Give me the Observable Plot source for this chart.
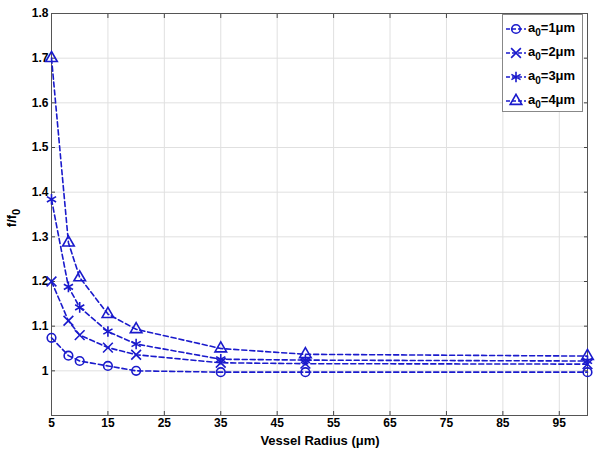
<!DOCTYPE html>
<html><head><meta charset="utf-8">
<script src="https://cdn.jsdelivr.net/npm/d3@7"></script>
<script src="https://cdn.jsdelivr.net/npm/@observablehq/plot@0.6"></script>
<style>
body{margin:0;background:#fff;font-family:"Liberation Sans",Arial,sans-serif;}
#wrap{position:relative;width:600px;height:453px;}
#legend{position:absolute;left:502px;top:14px;width:81px;height:98px;border:1px solid #888;background:#fff;box-sizing:border-box;font-weight:bold;font-size:13px;color:#000;}
#legend .row{position:absolute;left:2px;height:18px;display:flex;align-items:center;}
#legend sub{font-size:10px;}
</style></head>
<body><div id="wrap"><div id="chart"></div><div id="legend"></div></div>
<script>
const radius = [5, 8, 10, 15, 20, 35, 50, 100];
const a1 = [1.074, 1.034, 1.022, 1.011, 1.000, 0.997, 0.997, 0.997];
const a2 = [1.200, 1.112, 1.080, 1.052, 1.036, 1.018, 1.016, 1.015];
const a3 = [1.384, 1.188, 1.142, 1.088, 1.060, 1.026, 1.024, 1.022];
const a4 = [1.700, 1.287, 1.209, 1.127, 1.093, 1.050, 1.037, 1.033];
const seriesNames = ["1", "2", "3", "4"];
const symbols = ["circle", "times", "asterisk", "triangle"];
const symR = [4.3, 4.5, 5, 4.3];
const xTicks = [5, 15, 25, 35, 45, 55, 65, 75, 85, 95];
const yTicks = [1, 1.1, 1.2, 1.3, 1.4, 1.5, 1.6, 1.7, 1.8];
const yGrid = [0.9, 1, 1.1, 1.2, 1.3, 1.4, 1.5, 1.6, 1.7, 1.8];
const blue = "#1a1acc";

const all = [a1, a2, a3, a4];
const data = [];
all.forEach((arr, i) => arr.forEach((v, j) => data.push({s: seriesNames[i], x: radius[j], y: v})));

const marks = [
  Plot.gridX(xTicks, {stroke: "#e0e0e0", strokeOpacity: 1}),
  Plot.gridY(yGrid, {stroke: "#e0e0e0", strokeOpacity: 1}),
  Plot.axisX(xTicks, {tickSize: -4, tickFormat: d => d, fontWeight: "bold", fontSize: 12, stroke: "#444", tickPadding: 7, label: null}),
  Plot.axisX(xTicks, {anchor: "top", tickSize: -4, tickFormat: () => "", stroke: "#444", label: null}),
  Plot.axisY(yTicks, {tickSize: -4, tickFormat: d => d, fontWeight: "bold", fontSize: 12, stroke: "#444", tickPadding: 7, label: null}),
  Plot.axisY(yTicks, {anchor: "right", tickSize: -4, tickFormat: () => "", stroke: "#444", label: null}),
  Plot.frame({stroke: "#555"})
];
seriesNames.forEach((s, i) => {
  const d = data.filter(r => r.s === s);
  marks.push(Plot.line(d, {x: "x", y: "y", stroke: blue, strokeWidth: 1.6, strokeDasharray: "5,3"}));
  marks.push(Plot.dot(d, {x: "x", y: "y", symbol: () => symbols[i], r: symR[i], stroke: blue, strokeWidth: 1.6, fill: "none"}));
});

const chart = Plot.plot({
  width: 600, height: 453,
  marginLeft: 51, marginRight: 13, marginTop: 13, marginBottom: 38,
  style: {fontFamily: "Liberation Sans, Arial, sans-serif", background: "#fff", color: "#000"},
  x: {domain: [5, 100]},
  y: {domain: [0.9, 1.8]},
  symbol: {type: "identity"},
  marks
});
document.getElementById("chart").appendChild(chart);

const svg = d3.select(chart);
svg.append("text").attr("x", 320).attr("y", 445).attr("text-anchor", "middle")
  .attr("font-weight", "bold").attr("font-size", 13).attr("fill", "#000").text("Vessel Radius (μm)");
const yl = svg.append("text").attr("transform", "translate(16,218) rotate(-90)").attr("text-anchor", "middle")
  .attr("font-weight", "bold").attr("font-size", 13).attr("fill", "#000");
yl.append("tspan").text("f/f");
yl.append("tspan").attr("dy", 4).attr("font-size", 11).text("0");

const leg = document.getElementById("legend");
const map = {circle: d3.symbolCircle, times: d3.symbolTimes, asterisk: d3.symbolAsterisk, triangle: d3.symbolTriangle};
seriesNames.forEach((s, i) => {
  const row = document.createElement("div");
  row.className = "row";
  row.style.top = (5 + i * 24) + "px";
  const sz = Math.PI * symR[i] * symR[i];
  const path = d3.symbol(map[symbols[i]], sz)();
  row.innerHTML = `<svg width="22" height="16" style="margin-right:1px"><line x1="1" x2="21" y1="8" y2="8" stroke="${blue}" stroke-width="1.6" stroke-dasharray="4,2"/><path d="${path}" transform="translate(11,8)" fill="none" stroke="${blue}" stroke-width="1.6"/></svg><span>a<sub>0</sub>=${s}μm</span>`;
  leg.appendChild(row);
});
</script></body></html>
